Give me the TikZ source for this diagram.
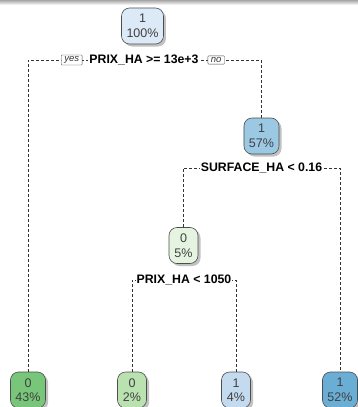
\documentclass[tikz,border=0pt]{standalone}
\usepackage{fontspec}
\setmainfont{Liberation Sans}
\usetikzlibrary{shadows}
\definecolor{cRoot}{RGB}{220,233,246}
\definecolor{cBlueMid}{RGB}{155,201,228}
\definecolor{cGreenPale}{RGB}{229,244,224}
\definecolor{cGreenDark}{RGB}{120,198,121}
\definecolor{cGreenLight}{RGB}{186,225,176}
\definecolor{cBlueLight}{RGB}{196,218,239}
\definecolor{cBlueDark}{RGB}{106,174,214}
\begin{document}
\begin{tikzpicture}[x=1pt,y=1pt,
  tnode/.style={draw=black!70, line width=0.6pt, rounded corners=8pt,
    minimum height=36pt, minimum width=29pt, inner xsep=5pt, inner ysep=2pt, align=center,
    text=black!75, font=\fontsize{12.5}{14.5}\selectfont,
    drop shadow={shadow xshift=2.5pt, shadow yshift=-2.5pt, fill=black!40, opacity=0.6}},
  conn/.style={draw=black!80, line width=0.6pt, dash pattern=on 3pt off 2pt},
  splitlab/.style={fill=white, inner sep=1pt, font=\bfseries\fontsize{12.3}{14}\selectfont},
  yn/.style={draw=black!70, line width=0.4pt, fill=white, rounded corners=0.8pt,
    inner xsep=3pt, inner ysep=1.5pt, text=black!80, font=\itshape\fontsize{9.5}{11}\selectfont}]
\useasboundingbox (0,0) rectangle (358,-407);
\shade[top color=black!35, bottom color=white] (0,0) rectangle (358,-5);

\node[tnode, fill=cRoot] (root) at (142.5,-26) {1\\100\%};
\node[tnode, fill=cBlueMid] (n57) at (261.5,-136) {1\\57\%};
\node[tnode, fill=cGreenPale] (n5) at (183.5,-245.5) {0\\5\%};
\node[tnode, fill=cGreenDark] (l43) at (28,-390) {0\\43\%};
\node[tnode, fill=cGreenLight] (l2) at (132,-390) {0\\2\%};
\node[tnode, fill=cBlueLight] (l4) at (236,-390) {1\\4\%};
\node[tnode, fill=cBlueDark] (l52) at (340,-390) {1\\52\%};

\coordinate (s1) at (144,-60);
\coordinate (s2) at (261.5,-168);
\coordinate (s3) at (184,-280);
\draw[conn] (l43.north) |- (s1) -| (n57.north);
\draw[conn] (n5.north) |- (s2) -| (l52.north);
\draw[conn] (l2.north) |- (s3) -| (l4.north);

\node[splitlab] (t1) at (s1) {PRIX\_HA >= 13e+3};
\node[yn, anchor=east] (yes) at ([xshift=-6pt]t1.west) {yes};
\node[yn, anchor=west] (no) at ([xshift=8pt]t1.east) {no};
\node[splitlab] (t2) at (s2) {SURFACE\_HA < 0.16};
\node[splitlab] (t3) at (s3) {PRIX\_HA < 1050};
\end{tikzpicture}
\end{document}
